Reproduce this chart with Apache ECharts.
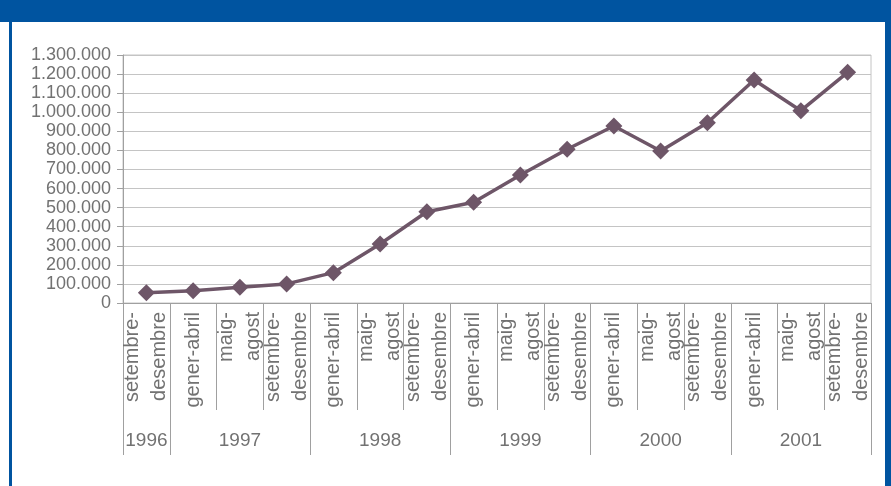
<!DOCTYPE html>
<html>
<head>
<meta charset="utf-8">
<script src="https://cdn.jsdelivr.net/npm/echarts@6/dist/echarts.min.js"></script>
<style>
  html, body { margin: 0; padding: 0; background: #ffffff; }
  #chart { width: 891px; height: 486px; }
</style>
</head>
<body>
<div id="chart"></div>
<script>
// Data
const periods = [
  'setembre-\ndesembre',
  'gener-abril', 'maig-\nagost', 'setembre-\ndesembre',
  'gener-abril', 'maig-\nagost', 'setembre-\ndesembre',
  'gener-abril', 'maig-\nagost', 'setembre-\ndesembre',
  'gener-abril', 'maig-\nagost', 'setembre-\ndesembre',
  'gener-abril', 'maig-\nagost', 'setembre-\ndesembre'
];
const yearOfPeriod = ['1996',
  '1997', '1997', '1997',
  '1998', '1998', '1998',
  '1999', '1999', '1999',
  '2000', '2000', '2000',
  '2001', '2001', '2001'];
const values = [54000, 64000, 82000, 100000, 159000, 309000, 478000, 528000,
  671000, 806000, 928000, 797000, 945000, 1169000, 1008000, 1209000];
const yTicks = { min: 0, max: 1300000, step: 100000 };

// group boundaries and centers for year axis
const groupStart = new Set();
const groupCenter = new Set();
(function () {
  let i = 0;
  while (i < yearOfPeriod.length) {
    let j = i;
    while (j + 1 < yearOfPeriod.length && yearOfPeriod[j + 1] === yearOfPeriod[i]) j++;
    groupStart.add(i);
    groupCenter.add(Math.floor((i + j) / 2));
    i = j + 1;
  }
})();

const textColor = '#727272';
const gridColor = '#c4c4c4';
const axisColor = '#a0a0a0';
const lineColor = '#6e5668';
const blue = '#0054a0';

const chart = echarts.init(document.getElementById('chart'), null, { renderer: 'canvas' });
chart.setOption({
  animation: false,
  backgroundColor: '#ffffff',
  grid: {
    left: 123, right: 20, top: 55, bottom: 183,
    show: true, borderColor: gridColor, borderWidth: 1
  },
  xAxis: [
    {
      type: 'category',
      data: periods,
      boundaryGap: true,
      axisLine: { show: true, lineStyle: { color: axisColor, width: 1 } },
      axisTick: { show: true, interval: 0, length: 107, lineStyle: { color: axisColor, width: 1 } },
      axisLabel: {
        interval: 0, rotate: 90, margin: 9,
        fontFamily: 'Liberation Sans, Arial, sans-serif', fontSize: 20, lineHeight: 27,
        color: textColor
      },
      splitLine: { show: false }
    },
    {
      type: 'category',
      data: yearOfPeriod,
      position: 'bottom',
      boundaryGap: true,
      axisLine: { show: false },
      axisTick: {
        show: true, length: 152,
        interval: function (index) { return groupStart.has(index); },
        lineStyle: { color: axisColor, width: 1 }
      },
      axisLabel: {
        margin: 128,
        interval: function (index) { return groupCenter.has(index); },
        fontFamily: 'Liberation Sans, Arial, sans-serif', fontSize: 19,
        color: textColor
      },
      splitLine: { show: false }
    }
  ],
  yAxis: {
    type: 'value',
    min: yTicks.min, max: yTicks.max, interval: yTicks.step,
    axisLine: { show: true, lineStyle: { color: axisColor, width: 1 } },
    axisTick: { show: true, length: 6, lineStyle: { color: axisColor } },
    axisLabel: {
      margin: 12,
      fontFamily: 'Liberation Sans, Arial, sans-serif', fontSize: 18,
      color: textColor,
      formatter: function (v) {
        return String(v).replace(/\B(?=(\d{3})+(?!\d))/g, '.');
      }
    },
    splitLine: { show: true, lineStyle: { color: gridColor, width: 1 } }
  },
  series: [{
    type: 'line',
    xAxisIndex: 0,
    data: values,
    symbol: 'diamond',
    symbolSize: [17, 17],
    lineStyle: { color: lineColor, width: 3.5 },
    itemStyle: { color: lineColor },
    z: 5
  }],
  graphic: [
    { type: 'rect', shape: { x: 0, y: 0, width: 891, height: 22 }, style: { fill: blue }, z: 100 },
    { type: 'rect', shape: { x: 9, y: 22, width: 3, height: 464 }, style: { fill: blue }, z: 100 },
    { type: 'rect', shape: { x: 885, y: 22, width: 6, height: 464 }, style: { fill: blue }, z: 100 }
  ]
});
</script>
</body>
</html>
